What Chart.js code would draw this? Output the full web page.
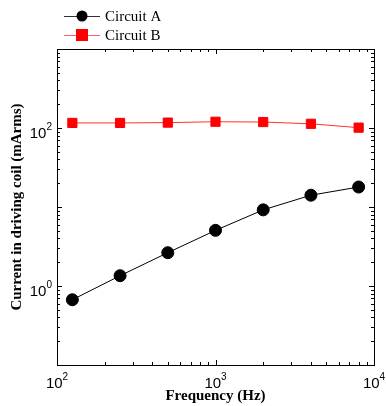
<!DOCTYPE html>
<html>
<head>
<meta charset="utf-8">
<script src="https://cdn.jsdelivr.net/npm/chart.js@4/dist/chart.umd.min.js"></script>
<style>
    html, body { margin: 0; padding: 0; background: #fff; }
    #wrap { width: 386px; height: 406px; }
</style>
</head>
<body>
<div id="wrap"><canvas id="coilChart"></canvas></div>
<script>
/* =========================
   DATA
========================= */

const frequencies = [125, 250, 500, 1000, 2000, 4000, 8000];
const circuitA = [0.67, 1.35, 2.64, 5.06, 9.2, 14.1, 17.9];
const circuitB = [116, 116, 117, 120, 119, 113, 101];

const seriesNames = ["Circuit A", "Circuit B"];
const xLabelPowers = [2, 3, 4];
const yLabelPowers = [0, 2];

const xTitle = "Frequency (Hz)";
const yTitle = "Current in driving coil (mArms)";

/* =========================
   HELPERS
========================= */

function toPoints(values) {
    return frequencies.map((f, i) => ({ x: f, y: values[i] }));
}

function drawPower(ctx, power, x, y, align) {
    ctx.font = "15px 'Liberation Sans', Arial, sans-serif";
    let baseW = ctx.measureText("10").width;
    ctx.font = "10px 'Liberation Sans', Arial, sans-serif";
    let expW = ctx.measureText(String(power)).width;
    let left = align === "right" ? x - baseW - expW : x - (baseW + expW) / 2;

    ctx.textAlign = "left";
    ctx.textBaseline = "alphabetic";
    ctx.font = "15px 'Liberation Sans', Arial, sans-serif";
    ctx.fillText("10", left, y);
    ctx.font = "10px 'Liberation Sans', Arial, sans-serif";
    ctx.fillText(String(power), left + baseW, y - 8);
}

function minorValues(scale) {
    let out = [];
    let lo = Math.floor(Math.log10(scale.min));
    let hi = Math.ceil(Math.log10(scale.max));
    for (let d = lo; d <= hi; d++) {
        for (let m = 1; m <= 9; m++) {
            let v = m * Math.pow(10, d);
            if (v >= scale.min * 0.999 && v <= scale.max * 1.001) out.push({ v, major: m === 1 });
        }
    }
    return out;
}

/* =========================
   FRAME, TICKS, TEXT, LEGEND
========================= */

const framePlugin = {
    id: "frame",
    afterDraw(chart) {
        const ctx = chart.ctx;
        const a = chart.chartArea;
        const xs = chart.scales.x;
        const ys = chart.scales.y;

        ctx.save();
        ctx.strokeStyle = "#000";
        ctx.lineWidth = 1;

        // box
        ctx.strokeRect(Math.round(a.left) + 0.5, Math.round(a.top) + 0.5,
            Math.round(a.right - a.left), Math.round(a.bottom - a.top));

        // inward ticks on all four sides
        ctx.beginPath();
        minorValues(xs).forEach(t => {
            let px = Math.round(xs.getPixelForValue(t.v)) + 0.5;
            let len = t.major ? 5 : 3;
            ctx.moveTo(px, a.bottom);
            ctx.lineTo(px, a.bottom - len);
            ctx.moveTo(px, a.top);
            ctx.lineTo(px, a.top + len);
        });
        minorValues(ys).forEach(t => {
            let py = Math.round(ys.getPixelForValue(t.v)) + 0.5;
            let len = t.major ? 5 : 3;
            ctx.moveTo(a.left, py);
            ctx.lineTo(a.left + len, py);
            ctx.moveTo(a.right, py);
            ctx.lineTo(a.right - len, py);
        });
        ctx.stroke();

        // tick labels
        ctx.fillStyle = "#000";
        xLabelPowers.forEach(p => {
            let px = xs.getPixelForValue(Math.pow(10, p));
            drawPower(ctx, p, px, a.bottom + 23, "center");
        });
        yLabelPowers.forEach(p => {
            let py = ys.getPixelForValue(Math.pow(10, p));
            drawPower(ctx, p, a.left - 5, py + 10, "right");
        });

        // axis titles
        ctx.font = "bold 15px 'Liberation Serif', 'Times New Roman', serif";
        ctx.textAlign = "center";
        ctx.textBaseline = "middle";
        ctx.fillText(xTitle, (a.left + a.right) / 2, 396);

        ctx.save();
        ctx.translate(17, (a.top + a.bottom) / 2);
        ctx.rotate(-Math.PI / 2);
        ctx.fillText(yTitle, 0, 0);
        ctx.restore();

        // legend
        chart.data.datasets.forEach((ds, i) => {
            let ly = 16 + i * 19;
            ctx.strokeStyle = i === 1 ? "#ff6060" : "#333";
            ctx.lineWidth = 1;
            ctx.beginPath();
            ctx.moveTo(64, ly + 0.5);
            ctx.lineTo(100, ly + 0.5);
            ctx.stroke();
            ctx.fillStyle = ds.pointBackgroundColor;
            if (ds.pointStyle === "rect") {
                ctx.fillRect(82 - 6, ly - 6, 12, 12);
            } else {
                ctx.beginPath();
                ctx.arc(82, ly, 5.5, 0, Math.PI * 2);
                ctx.fill();
            }
            ctx.fillStyle = "#000";
            ctx.font = "15px 'Liberation Serif', 'Times New Roman', serif";
            ctx.textAlign = "left";
            ctx.textBaseline = "middle";
            ctx.fillText(seriesNames[i], 105, ly + 1);
        });

        ctx.restore();
    }
};

/* =========================
   CHART
========================= */

new Chart(document.getElementById("coilChart"), {
    type: "line",
    data: {
        datasets: [
            {
                label: seriesNames[0],
                data: toPoints(circuitA),
                borderColor: "#000",
                backgroundColor: "#000",
                pointBackgroundColor: "#000",
                pointBorderColor: "#000",
                pointStyle: "circle",
                pointRadius: 6,
                borderWidth: 1,
                tension: 0
            },
            {
                label: seriesNames[1],
                data: toPoints(circuitB),
                borderColor: "#ff3030",
                backgroundColor: "#ff0000",
                pointBackgroundColor: "#ff0000",
                pointBorderColor: "#ff0000",
                pointStyle: "rect",
                pointRadius: 6.5,
                borderWidth: 1,
                tension: 0
            }
        ]
    },
    options: {
        responsive: true,
        maintainAspectRatio: false,
        animation: false,
        layout: { padding: { left: 57, top: 49, right: 12, bottom: 41 } },
        plugins: {
            legend: { display: false },
            tooltip: { enabled: false }
        },
        scales: {
            x: { type: "logarithmic", min: 100, max: 10000, display: false },
            y: { type: "logarithmic", min: 0.1, max: 1000, display: false }
        }
    },
    plugins: [framePlugin]
});
</script>
</body>
</html>
